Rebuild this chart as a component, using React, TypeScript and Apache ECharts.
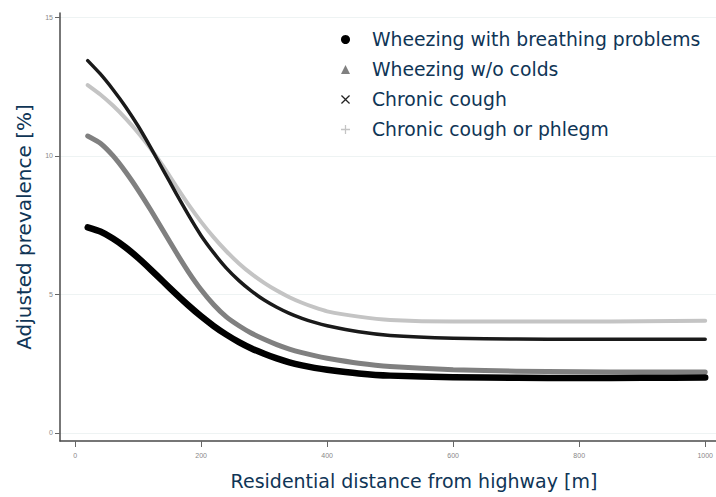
import React, { useEffect, useRef } from 'react';
import * as echarts from 'echarts';

const distances = [20, 40, 60, 80, 100, 120, 140, 160, 180, 200, 220, 240, 260, 280, 300, 320, 340, 360, 380, 400, 450, 500, 600, 700, 800, 900, 1000];
const wheezeBreath = [7.42, 7.27, 7.02, 6.7, 6.32, 5.9, 5.46, 5.02, 4.6, 4.21, 3.86, 3.55, 3.28, 3.05, 2.86, 2.69, 2.55, 2.44, 2.35, 2.28, 2.15, 2.07, 2.01, 1.99, 1.98, 1.99, 2.0];
const wheezeNoColds = [10.72, 10.46, 10.01, 9.43, 8.77, 8.05, 7.29, 6.53, 5.81, 5.17, 4.63, 4.19, 3.87, 3.6, 3.38, 3.19, 3.03, 2.9, 2.79, 2.7, 2.52, 2.4, 2.28, 2.23, 2.21, 2.2, 2.2];
const chronicCough = [13.44, 12.96, 12.4, 11.78, 11.08, 10.3, 9.48, 8.66, 7.86, 7.12, 6.5, 5.95, 5.5, 5.12, 4.8, 4.54, 4.32, 4.14, 3.99, 3.87, 3.65, 3.52, 3.42, 3.39, 3.38, 3.38, 3.38];
const coughPhlegm = [12.56, 12.22, 11.82, 11.36, 10.84, 10.26, 9.62, 8.92, 8.24, 7.62, 7.06, 6.56, 6.12, 5.74, 5.42, 5.14, 4.9, 4.7, 4.53, 4.39, 4.2, 4.08, 4.02, 4.02, 4.02, 4.03, 4.05];
const seriesNames = [
  'Wheezing with breathing problems',
  'Wheezing w/o colds',
  'Chronic cough',
  'Chronic cough or phlegm',
];
const xTicks = [0, 200, 400, 600, 800, 1000];
const yTicks = [0, 5, 10, 15];

const CROSS = 'path://M1,0L5,4L9,0L10,1L6,5L10,9L9,10L5,6L1,10L0,9L4,5L0,1Z';
const PLUS = 'path://M4.3,0H5.7V4.3H10V5.7H5.7V10H4.3V5.7H0V4.3H4.3Z';

const pairs = (ys: number[]) => distances.map((x, i) => [x, ys[i]]);

export default function App() {
  const ref = useRef<HTMLDivElement>(null);
  useEffect(() => {
    document.body.style.margin = '0';
    if (!ref.current) return;
    const chart = echarts.init(ref.current, undefined, { renderer: 'svg' });
    const titleColor = '#0f3556';
    const wideFont = 'DejaVu Sans, Liberation Sans, Arial, sans-serif';
    const mk = (name: string, data: number[], color: string, width: number, z: number) => ({
      name,
      type: 'line',
      data: pairs(data),
      smooth: 0.15,
      showSymbol: false,
      symbol: 'none',
      z,
      lineStyle: { color, width, cap: 'round', join: 'round' },
      itemStyle: { color },
    });
    chart.setOption({
      animation: false,
      backgroundColor: '#ffffff',
      grid: { left: 60, right: 0, top: 13, bottom: 56 },
      legend: {
        orient: 'vertical',
        left: 336,
        top: 25,
        padding: [5, 20, 8, 5],
        backgroundColor: '#ffffff',
        itemWidth: 9,
        itemHeight: 9,
        itemGap: 11,
        textStyle: {
          fontFamily: wideFont,
          fontSize: 18.8,
          color: titleColor,
          padding: [0, 0, 0, 17],
        },
        data: [
          { name: seriesNames[0], icon: 'circle', itemStyle: { color: '#000' } },
          { name: seriesNames[1], icon: 'triangle', itemStyle: { color: '#808080' } },
          { name: seriesNames[2], icon: CROSS, itemStyle: { color: '#222' } },
          { name: seriesNames[3], icon: PLUS, itemStyle: { color: '#c4c4c4' } },
        ],
      },
      xAxis: {
        type: 'value',
        min: -24,
        max: 1017,
        name: 'Residential distance from highway [m]',
        nameLocation: 'middle',
        nameGap: 30,
        nameTextStyle: {
          fontFamily: wideFont,
          fontSize: 19,
          color: titleColor,
          padding: [0, 0, 0, 52],
        },
        axisLine: { onZero: false, lineStyle: { color: '#4a4a4a', width: 1.5 } },
        axisTick: { show: true, length: 6, customValues: xTicks, lineStyle: { color: '#666' } },
        axisLabel: {
          customValues: xTicks,
          fontSize: 7,
          color: '#888',
          margin: 11,
          formatter: (v: number) => String(v),
        },
        splitLine: { show: false },
      },
      yAxis: {
        type: 'value',
        min: -0.29,
        max: 15.16,
        name: 'Adjusted prevalence [%]',
        nameLocation: 'middle',
        nameGap: 25,
        nameTextStyle: {
          fontFamily: wideFont,
          fontSize: 20,
          color: titleColor,
        },
        axisLine: { onZero: false, lineStyle: { color: '#4a4a4a', width: 1.5 } },
        axisTick: { show: true, length: 5, customValues: yTicks, lineStyle: { color: '#666' } },
        axisLabel: {
          customValues: yTicks,
          fontSize: 7,
          color: '#888',
          margin: 7,
          formatter: (v: number) => String(v),
        },
        splitLine: { show: true, lineStyle: { color: '#eef3f3', width: 1 } },
      },
      series: [
        mk(seriesNames[0], wheezeBreath, '#000000', 6.5, 4),
        mk(seriesNames[1], wheezeNoColds, '#808080', 5, 3),
        mk(seriesNames[3], coughPhlegm, '#c4c4c4', 4, 2),
        mk(seriesNames[2], chronicCough, '#1a1a1a', 3.5, 5),
      ],
    });
    return () => chart.dispose();
  }, []);
  return <div ref={ref} style={{ width: 716, height: 497 }} />;
}
